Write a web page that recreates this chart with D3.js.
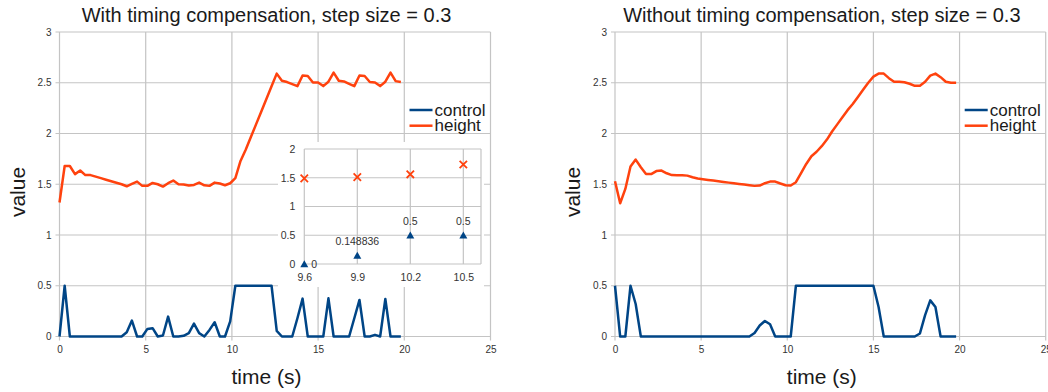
<!DOCTYPE html>
<html>
<head>
<meta charset="utf-8">
<script src="https://cdn.jsdelivr.net/npm/d3@7"></script>
<style>
  body { margin: 0; background: #fff; }
  svg text { font-family: "Liberation Sans", Arial, sans-serif; }
</style>
</head>
<body>
<div id="chart"></div>
<script>
// sample times (s), step 0.3
const time = [
  0, 0.3, 0.6, 0.9, 1.2, 1.5, 1.8, 2.1, 2.4, 2.7,
  3.0, 3.3, 3.6, 3.9, 4.2, 4.5, 4.8, 5.1, 5.4, 5.7,
  6.0, 6.3, 6.6, 6.9, 7.2, 7.5, 7.8, 8.1, 8.4, 8.7,
  9.0, 9.3, 9.6, 9.9, 10.2, 10.5, 10.8, 11.1, 11.4, 11.7,
  12.0, 12.3, 12.6, 12.9, 13.2, 13.5, 13.8, 14.1, 14.4, 14.7,
  15.0, 15.3, 15.6, 15.9, 16.2, 16.5, 16.8, 17.1, 17.4, 17.7,
  18.0, 18.3, 18.6, 18.9, 19.2, 19.5, 19.8
];

// with timing compensation
const heightWith = [
  1.32, 1.68, 1.68, 1.60, 1.635, 1.59, 1.59, 1.575, 1.56, 1.545,
  1.53, 1.515, 1.50, 1.48, 1.503, 1.526, 1.484, 1.484, 1.513, 1.50,
  1.477, 1.51, 1.536, 1.50, 1.497, 1.487, 1.493, 1.516, 1.49, 1.484,
  1.516, 1.507, 1.49, 1.51, 1.56, 1.73, 1.84, 1.965, 2.09, 2.215,
  2.34, 2.465, 2.59, 2.52, 2.507, 2.487, 2.467, 2.572, 2.566, 2.503,
  2.503, 2.467, 2.51, 2.60, 2.52, 2.513, 2.49, 2.467, 2.572, 2.566,
  2.507, 2.503, 2.467, 2.51, 2.60, 2.516, 2.507
];
const controlWith = [
  0, 0.5, 0, 0, 0, 0, 0, 0, 0, 0,
  0, 0, 0, 0.042, 0.157, 0, 0, 0.075, 0.082, 0,
  0.01, 0.196, 0, 0, 0.007, 0.033, 0.127, 0.033, 0, 0.065,
  0.14, 0, 0, 0.148836, 0.5, 0.5, 0.5, 0.5, 0.5, 0.5,
  0.5, 0.5, 0.055, 0, 0, 0, 0.18, 0.373, 0, 0,
  0, 0, 0.376, 0, 0, 0, 0, 0.18, 0.36, 0,
  0, 0.016, 0, 0.37, 0, 0, 0
];

// without timing compensation
const heightWithout = [
  1.53, 1.313, 1.454, 1.674, 1.743, 1.667, 1.60, 1.60, 1.63, 1.635,
  1.608, 1.59, 1.589, 1.589, 1.585, 1.569, 1.556, 1.549, 1.543, 1.536,
  1.53, 1.523, 1.516, 1.51, 1.503, 1.497, 1.49, 1.484, 1.487, 1.51,
  1.526, 1.526, 1.507, 1.49, 1.487, 1.52, 1.61, 1.70, 1.776, 1.82,
  1.875, 1.94, 2.02, 2.09, 2.16, 2.23, 2.29, 2.36, 2.43, 2.50,
  2.56, 2.59, 2.59, 2.545, 2.51, 2.51, 2.505, 2.49, 2.47, 2.47,
  2.51, 2.57, 2.59, 2.555, 2.51, 2.50, 2.50
];
const controlWithout = [
  0.5, 0, 0, 0.5, 0.32, 0, 0, 0, 0, 0,
  0, 0, 0, 0, 0, 0, 0, 0, 0, 0,
  0, 0, 0, 0, 0, 0, 0, 0.035, 0.108, 0.153,
  0.12, 0, 0, 0, 0, 0.5, 0.5, 0.5, 0.5, 0.5,
  0.5, 0.5, 0.5, 0.5, 0.5, 0.5, 0.5, 0.5, 0.5, 0.5,
  0.5, 0.29, 0, 0, 0, 0, 0, 0, 0, 0.03,
  0.21, 0.356, 0.29, 0, 0, 0, 0
];

// zoomed inset (left chart)
const insetTime = [9.6, 9.9, 10.2, 10.5];
const insetHeight = [1.49, 1.51, 1.56, 1.73];
const insetControl = [0, 0.148836, 0.5, 0.5];
const insetLabels = ["0", "0.148836", "0.5", "0.5"];

const xTicks = [0, 5, 10, 15, 20, 25];
const yTicks = [0, 0.5, 1, 1.5, 2, 2.5, 3];
const seriesNames = ["control", "height"];
const colors = {control: "#004586", height: "#ff420e"};
const gridColor = "#c4c4c4";

const W = 1048, H = 392;
const svg = d3.select("#chart").append("svg")
    .attr("width", W)
    .attr("height", H);

function drawPanel(left, right, title, control, height) {
    let top = 32, bottom = 336.5;
    let x = d3.scaleLinear().domain([0, 25]).range([left, right]);
    let y = d3.scaleLinear().domain([0, 3]).range([bottom, top]);
    let g = svg.append("g");
    let mid = (left + right) / 2 - 8.5;

    // grid
    g.selectAll(".hgrid").data(yTicks).enter().append("line")
        .attr("x1", left - 4).attr("x2", right)
        .attr("y1", d => y(d)).attr("y2", d => y(d))
        .attr("stroke", gridColor).attr("stroke-width", 1.2);
    g.selectAll(".vgrid").data(xTicks).enter().append("line")
        .attr("x1", d => x(d)).attr("x2", d => x(d))
        .attr("y1", top).attr("y2", bottom + 4)
        .attr("stroke", gridColor).attr("stroke-width", 1.2);

    // axes (labels only, lines come from the grid)
    let yAxis = g.append("g")
        .attr("transform", `translate(${left},0)`)
        .call(d3.axisLeft(y).tickValues(yTicks).tickFormat(d3.format("")).tickSize(0).tickPadding(8));
    let xAxis = g.append("g")
        .attr("transform", `translate(0,${bottom})`)
        .call(d3.axisBottom(x).tickValues(xTicks).tickSize(0).tickPadding(9));
    [yAxis, xAxis].forEach(a => {
        a.select(".domain").remove();
        a.selectAll("text").attr("font-size", 10).attr("fill", "#333")
            .attr("font-family", "Liberation Sans, Arial, sans-serif");
    });

    // lines
    let line = vals => d3.line()
        .x((d, i) => x(time[i]))
        .y(d => y(d))(vals);
    g.append("path").attr("d", line(height))
        .attr("fill", "none").attr("stroke", colors.height)
        .attr("stroke-width", 2.5).attr("stroke-linejoin", "round");
    g.append("path").attr("d", line(control))
        .attr("fill", "none").attr("stroke", colors.control)
        .attr("stroke-width", 2.5).attr("stroke-linejoin", "round");

    // title
    g.append("text")
        .attr("x", mid).attr("y", 22)
        .attr("text-anchor", "middle").attr("font-size", 20).attr("fill", "#1a1a1a")
        .text(title);

    // axis titles
    g.append("text")
        .attr("transform", `translate(${left - 42},192) rotate(-90)`)
        .attr("text-anchor", "middle").attr("font-size", 21).attr("fill", "#1a1a1a")
        .attr("dy", "0.35em")
        .text("value");
    g.append("text")
        .attr("x", mid).attr("y", 384)
        .attr("text-anchor", "middle").attr("font-size", 21).attr("fill", "#1a1a1a")
        .text("time (s)");

    // legend
    let lg = g.append("g").attr("transform", `translate(${right - 81},110)`);
    seriesNames.forEach((name, i) => {
        lg.append("line")
            .attr("x1", 0).attr("x2", 23)
            .attr("y1", i * 15.7).attr("y2", i * 15.7)
            .attr("stroke", colors[name]).attr("stroke-width", 2.5);
        lg.append("text")
            .attr("x", 25).attr("y", i * 15.7 + 5.5)
            .attr("font-size", 17).attr("fill", "#1a1a1a")
            .text(name);
    });
    return {x, y};
}

drawPanel(59.5, 490.5, "With timing compensation, step size = 0.3", controlWith, heightWith);
drawPanel(615, 1045.7, "Without timing compensation, step size = 0.3", controlWithout, heightWithout);

// inset
const ix = d3.scaleLinear().domain([9.6, 10.6]).range([304.3, 481]);
const iy = d3.scaleLinear().domain([0, 2]).range([264, 149]);
const inset = svg.append("g");
inset.append("rect")
    .attr("x", 278).attr("y", 142).attr("width", 206).attr("height", 145)
    .attr("fill", "#fff");
inset.selectAll(".ih").data([0, 0.5, 1, 1.5, 2]).enter().append("line")
    .attr("x1", ix(9.6)).attr("x2", ix(10.6))
    .attr("y1", d => iy(d)).attr("y2", d => iy(d))
    .attr("stroke", gridColor).attr("stroke-width", 1.2);
inset.selectAll(".iv").data([9.6, 9.9, 10.2, 10.5, 10.6]).enter().append("line")
    .attr("x1", d => ix(d)).attr("x2", d => ix(d))
    .attr("y1", iy(2)).attr("y2", iy(0))
    .attr("stroke", gridColor).attr("stroke-width", 1.2);

const iyAxis = inset.append("g")
    .attr("transform", `translate(${ix(9.6)},0)`)
    .call(d3.axisLeft(iy).tickValues([0, 0.5, 1, 1.5, 2]).tickFormat(d3.format("")).tickSize(0).tickPadding(9));
const ixAxis = inset.append("g")
    .attr("transform", `translate(0,${iy(0)})`)
    .call(d3.axisBottom(ix).tickValues(insetTime).tickFormat(d3.format(".1f")).tickSize(0).tickPadding(10));
[iyAxis, ixAxis].forEach(a => {
    a.select(".domain").remove();
    a.selectAll("text").attr("font-size", 10.5).attr("fill", "#333")
        .attr("font-family", "Liberation Sans, Arial, sans-serif");
});

// height markers (x)
inset.selectAll(".cross").data(insetHeight).enter().append("path")
    .attr("transform", (d, i) => `translate(${ix(insetTime[i])},${iy(d)})`)
    .attr("d", "M-3.7,-3.7L3.7,3.7M-3.7,3.7L3.7,-3.7")
    .attr("stroke", colors.height).attr("stroke-width", 1.8).attr("fill", "none");

// control markers (triangles)
inset.selectAll(".tri").data(insetControl).enter().append("path")
    .attr("transform", (d, i) => `translate(${ix(insetTime[i])},${iy(d)})`)
    .attr("d", "M0,-3.8L4,3.2L-4,3.2Z")
    .attr("fill", colors.control);

// data labels
inset.selectAll(".dl").data(insetControl).enter().append("text")
    .attr("x", (d, i) => i === 0 ? ix(insetTime[i]) + 7 : ix(insetTime[i]))
    .attr("y", (d, i) => i === 0 ? iy(d) + 3.8 : iy(d) - 10)
    .attr("text-anchor", (d, i) => i === 0 ? "start" : "middle")
    .attr("font-size", 10.5).attr("fill", "#333")
    .text((d, i) => insetLabels[i]);
</script>
</body>
</html>
